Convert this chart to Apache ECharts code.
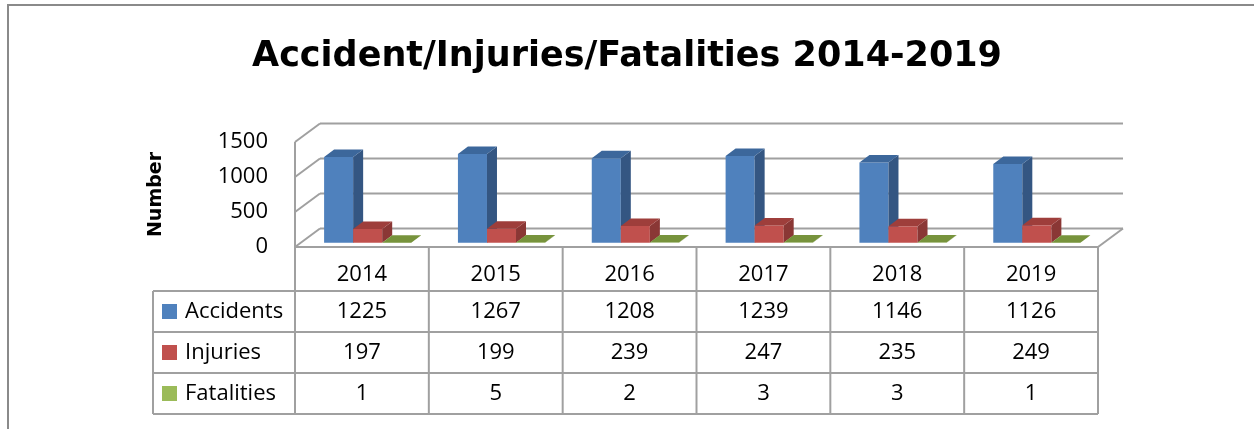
<!DOCTYPE html>
<html>
<head>
<meta charset="utf-8">
<script src="https://cdn.jsdelivr.net/npm/echarts@6/dist/echarts.min.js"></script>
<style>html,body{margin:0;background:#fff}#main{width:1254px;height:429px}</style>
</head>
<body>
<div id="main"></div>
<script>
var years = ['2014', '2015', '2016', '2017', '2018', '2019'];
var accidents = [1225, 1267, 1208, 1239, 1146, 1126];
var injuries = [197, 199, 239, 247, 235, 249];
var fatalities = [1, 5, 2, 3, 3, 1];
var seriesNames = ['Accidents', 'Injuries', 'Fatalities'];
var yTicks = [0, 500, 1000, 1500];

var FONT = 'Open Sans';
var DEPTH = [25, -18.5];      // depth of the 3d box in px
var BAR_SHIFT = 0.23;         // bars sit a bit behind the front plane
var BAR_DEPTH = [10, -7.5];
var GRID_LINE = '#a0a0a0';
var colors = [
  {front: '#4f81bd', side: '#345682', top: '#3c679b'},
  {front: '#c0504d', side: '#8a3735', top: '#9e3e3b'},
  {front: '#9bbb59', side: '#6f8a3a', top: '#77933c'}
];
var allValues = [accidents, injuries, fatalities];

var chart = echarts.init(document.getElementById('main'));

function seg(x1, y1, x2, y2, w) {
  return {type: 'line', shape: {x1: x1, y1: y1, x2: x2, y2: y2},
    style: {stroke: GRID_LINE, lineWidth: w || 2}};
}

function edges(api) {
  var band = api.size([1, 0])[0];
  return {
    band: band,
    xl: api.coord([0, 0])[0] - band / 2,
    xr: api.coord([years.length - 1, 0])[0] + band / 2,
    y0: api.coord([0, 0])[1]
  };
}

// walls and floor
function wallRender(params, api) {
  var e = edges(api);
  var out = [];
  yTicks.forEach(function (t) {
    var y = api.coord([0, t])[1];
    out.push(seg(e.xl + DEPTH[0], y + DEPTH[1], e.xr + DEPTH[0], y + DEPTH[1]));
    out.push(seg(e.xl, y, e.xl + DEPTH[0], y + DEPTH[1]));
  });
  var yTop = api.coord([0, yTicks[yTicks.length - 1]])[1];
  out.push(seg(e.xl, e.y0, e.xl, yTop));
  out.push(seg(e.xl, e.y0, e.xr, e.y0));
  out.push(seg(e.xr, e.y0, e.xr + DEPTH[0], e.y0 + DEPTH[1]));
  return {type: 'group', children: out};
}

function barRender(s) {
  return function (params, api) {
    var cat = api.value(0), v = api.value(1);
    var band = api.size([1, 0])[0];
    var w = band * 0.217;
    var base = api.coord([cat, 0]);
    var top = api.coord([cat, v]);
    var sx = DEPTH[0] * BAR_SHIFT, sy = DEPTH[1] * BAR_SHIFT;
    var x = base[0] - 1.5 * w + s * w + sx;
    var yb = base[1] + sy, yt = top[1] + sy;
    var dx = BAR_DEPTH[0], dy = BAR_DEPTH[1];
    var c = colors[s];
    return {type: 'group', children: [
      {type: 'rect', shape: {x: x, y: yt, width: w, height: yb - yt}, style: {fill: c.front}},
      {type: 'polygon', shape: {points: [[x + w, yt], [x + w + dx, yt + dy], [x + w + dx, yb + dy], [x + w, yb]]},
        style: {fill: c.side}},
      {type: 'polygon', shape: {points: [[x, yt], [x + dx, yt + dy], [x + w + dx, yt + dy], [x + w, yt]]},
        style: {fill: c.top}}
    ]};
  };
}

// data table under the plot
function tableRender(params, api) {
  var e = edges(api);
  var headH = 44, rowH = 41, legL = 153;
  var rowsTop = e.y0 + headH;
  var bottom = rowsTop + allValues.length * rowH;
  var out = [];
  for (var k = 0; k <= years.length; k++) {
    out.push(seg(e.xl + k * e.band, e.y0, e.xl + k * e.band, bottom));
  }
  out.push(seg(legL, rowsTop, legL, bottom));
  for (var r = 0; r <= allValues.length; r++) {
    out.push(seg(legL, rowsTop + r * rowH, e.xr, rowsTop + r * rowH));
  }
  years.forEach(function (yr, i) {
    out.push({type: 'text', style: {text: yr, x: e.xl + (i + 0.5) * e.band, y: e.y0 + 28,
      align: 'center', verticalAlign: 'middle', fontSize: 22, fontFamily: FONT, fill: '#000'}});
  });
  allValues.forEach(function (vals, r) {
    var cy = rowsTop + (r + 0.5) * rowH;
    out.push({type: 'rect', shape: {x: legL + 9, y: cy - 7.5, width: 15, height: 15},
      style: {fill: colors[r].front}});
    out.push({type: 'text', style: {text: seriesNames[r], x: legL + 32, y: cy,
      align: 'left', verticalAlign: 'middle', fontSize: 22, fontFamily: FONT, fill: '#000'}});
    vals.forEach(function (v, i) {
      out.push({type: 'text', style: {text: String(v), x: e.xl + (i + 0.5) * e.band, y: cy,
        align: 'center', verticalAlign: 'middle', fontSize: 22, fontFamily: FONT, fill: '#000'}});
    });
  });
  return {type: 'group', children: out};
}

var option = {
  animation: false,
  title: {
    text: 'Accident/Injuries/Fatalities 2014-2019',
    left: 'center',
    top: 34,
    textStyle: {fontFamily: 'DejaVu Sans', fontSize: 35, fontWeight: 'bold', color: '#000'}
  },
  grid: {left: 295, top: 142, width: 803, height: 105},
  xAxis: {type: 'category', data: years, show: false},
  yAxis: {
    type: 'value', min: 0, max: 1500, interval: 500,
    name: 'Number', nameLocation: 'middle', nameGap: 129, nameRotate: 90,
    nameTextStyle: {fontFamily: 'DejaVu Sans', fontSize: 19, fontWeight: 'bold', color: '#000'},
    axisLine: {show: false}, axisTick: {show: false}, splitLine: {show: false},
    axisLabel: {margin: 27, fontFamily: FONT, fontSize: 22, color: '#000', padding: [5, 0, 0, 0],
      formatter: function (v) { return String(v); }}
  },
  graphic: [{
    type: 'polyline', silent: true,
    shape: {points: [[8, 440], [8, 5], [1270, 5]]},
    style: {stroke: '#8a8a8a', lineWidth: 2, fill: null}
  }],
  series: [
    {type: 'custom', silent: true, renderItem: wallRender, data: [[0, 0]], z: 1},
    {type: 'custom', name: seriesNames[0], renderItem: barRender(0),
      data: accidents.map(function (v, i) { return [i, v]; }), z: 2},
    {type: 'custom', name: seriesNames[1], renderItem: barRender(1),
      data: injuries.map(function (v, i) { return [i, v]; }), z: 3},
    {type: 'custom', name: seriesNames[2], renderItem: barRender(2),
      data: fatalities.map(function (v, i) { return [i, v]; }), z: 4},
    {type: 'custom', silent: true, renderItem: tableRender, data: [[0, 0]], z: 5}
  ]
};
chart.setOption(option);
</script>
</body>
</html>
